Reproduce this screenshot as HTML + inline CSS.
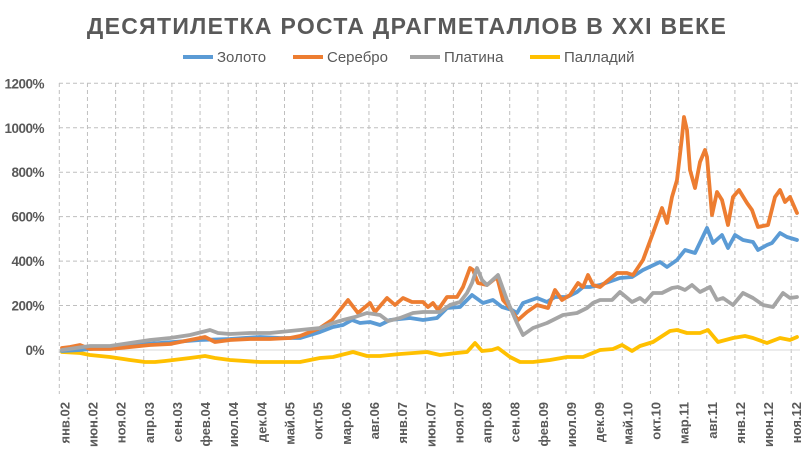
<!DOCTYPE html>
<html><head><meta charset="utf-8"><style>
body{margin:0;background:#fff;}
svg text{font-family:"Liberation Sans",sans-serif;}
</style></head><body>
<svg id="s" width="806" height="460" xmlns="http://www.w3.org/2000/svg">
<rect width="806" height="460" fill="#fff"/>
<text x="407" y="34" text-anchor="middle" font-size="23" font-weight="bold" fill="#595959" letter-spacing="1.3">ДЕСЯТИЛЕТКА РОСТА ДРАГМЕТАЛЛОВ В XXI ВЕКЕ</text>
<g font-size="15" fill="#595959">
<line x1="183" y1="57" x2="213" y2="57" stroke="#5B9BD5" stroke-width="4"/><text x="217" y="62">Золото</text>
<line x1="293" y1="57" x2="323" y2="57" stroke="#ED7D31" stroke-width="4"/><text x="327" y="62">Серебро</text>
<line x1="410" y1="57" x2="440" y2="57" stroke="#A5A5A5" stroke-width="4"/><text x="444" y="62">Платина</text>
<line x1="530" y1="57" x2="560" y2="57" stroke="#FFC000" stroke-width="4"/><text x="564" y="62">Палладий</text>
</g>
<g id="grid"></g>
<g id="series" fill="none" stroke-width="3.8" stroke-linejoin="round" stroke-linecap="round"></g>
</svg>
<script>
var ns="http://www.w3.org/2000/svg",s=document.getElementById('s'),g=document.getElementById('grid');
function el(t,a,p,txt){var e=document.createElementNS(ns,t);for(var k in a)e.setAttribute(k,a[k]);if(txt)e.textContent=txt;(p||s).appendChild(e);return e;}
var labs=["янв.02","июн.02","ноя.02","апр.03","сен.03","фев.04","июл.04","дек.04","май.05","окт.05","мар.06","авг.06","янв.07","июн.07","ноя.07","апр.08","сен.08","фев.09","июл.09","дек.09","май.10","окт.10","мар.11","авг.11","янв.12","июн.12","ноя.12"];
for(var i=0;i<7;i++){var y=83.3+i*44.45;var v=1200-i*200;
 if(v!=0)el('line',{x1:59,x2:800,y1:y,y2:y,stroke:'#bfbfbf','stroke-dasharray':'4,3','stroke-width':1},g);
 el('text',{x:44,y:y+5,'text-anchor':'end','font-size':13.5,'font-weight':'bold',fill:'#595959','letter-spacing':'-0.5'},g,v+'%');}
for(var i=0;i<27;i++){var x=59.3+i*28.15;
 el('line',{x1:x,x2:x,y1:83,y2:394,stroke:'#bfbfbf','stroke-dasharray':'4,3','stroke-width':1},g);
 el('text',{transform:'translate('+(x+10)+',402) rotate(-90)','text-anchor':'end','font-size':13,'font-weight':'bold',fill:'#595959'},g,labs[i]);}
el('line',{x1:59,x2:800,y1:350,y2:350,stroke:'#d9d9d9','stroke-width':1},g);
var S=document.getElementById('series');
function P(pts,c){el('polyline',{points:pts,stroke:c},S);}
P("62,352 80,353 90,355 110,357 130,360 145,362 155,362 165,361 190,358 205,356 215,358 230,360 260,362 280,362 300,362 320,358 333,357 353,352 367,356 380,356 400,354 427,352 440,355 457,353 467,352 475,343 482,351 492,350 498,348 510,357 520,362 533,362 550,360 567,357 583,357 600,350 613,349 622,345 632,351 640,346 653,342 670,331 677,330 687,333 700,333 708,330 718,342 733,338 745,336 753,338 767,343 780,338 790,340 797,337","#FFC000");
P("62,351 80,350 100,348 130,345 160,343 200,340 230,339 260,337 280,338 300,338 320,332 333,327 343,325 352,320 360,323 370,322 380,325 390,320 410,318 423,320 437,318 447,308 460,307 467,300 472,295 483,303 493,300 502,307 512,310 517,313 523,303 537,298 547,302 555,297 567,297 577,292 583,287 590,287 600,285 620,278 632,277 643,270 660,262 667,267 677,260 685,250 695,253 707,228 713,243 722,235 728,248 735,235 743,240 753,242 758,250 767,245 772,243 780,233 787,237 797,240","#5B9BD5");
P("62,348 70,347 80,345 90,349 110,349 150,345 170,344 190,340 205,337 215,342 230,340 250,339 270,339 290,338 300,336 320,328 332,320 348,300 358,313 370,303 375,312 387,298 395,305 403,298 412,302 423,302 428,307 433,303 438,310 447,297 457,297 463,287 470,268 473,270 478,283 487,285 497,277 503,300 510,308 518,320 527,312 537,305 548,308 555,290 562,300 570,295 578,283 583,287 588,275 593,285 600,287 617,273 627,273 633,275 643,260 653,233 662,208 667,223 672,197 677,180 682,137 684,117 687,130 690,170 695,188 700,162 705,150 707,157 712,215 717,192 722,200 728,225 733,197 739,190 747,203 752,210 758,227 768,225 775,197 780,190 785,202 790,197 797,213","#ED7D31");
P("62,350 90,346 110,346 130,343 150,340 170,338 190,335 210,330 218,333 230,334 250,333 270,333 300,330 320,328 333,323 343,320 355,317 367,313 380,315 388,321 400,318 413,313 423,312 440,312 450,305 460,302 467,293 472,283 477,268 482,280 487,285 498,275 507,300 517,323 523,335 533,328 547,323 553,320 563,315 577,313 587,308 593,303 600,300 612,300 620,292 632,302 640,298 645,302 653,293 662,293 672,288 678,287 685,290 692,285 700,292 710,287 717,300 723,298 733,305 743,293 753,298 763,305 773,307 783,293 790,298 797,297","#A5A5A5");
</script>
</body></html>
